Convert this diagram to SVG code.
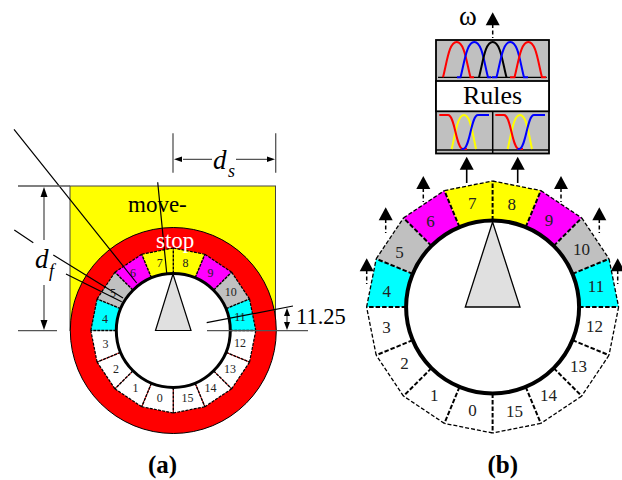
<svg xmlns="http://www.w3.org/2000/svg" width="622" height="480" viewBox="0 0 622 480">
<style>
text{font-family:"Liberation Serif","Times New Roman",serif;fill:#000}
.la{font-size:12px;text-anchor:middle;fill:#222}
.lb{font-size:17px;text-anchor:middle;fill:#222}
.cap{font-size:25px;font-weight:bold}
.big{font-size:23px}
.i{font-style:italic}
.thin{stroke:#000;stroke-width:1.2;fill:none}
.dim{stroke:#555;stroke-width:1.3;fill:none}
.dsh{stroke:#000;stroke-width:1.5;fill:none;stroke-dasharray:4 2.5}
.c{fill:none;stroke-width:2}
.white{fill:#fff}.cy{fill:#0ff}.gr{fill:#c0c0c0}.mg{fill:#f0f}.ye{fill:#ff0}
</style>
<defs>
<polygon id="sa" points="0,57 0,82.5 -31.57,76.22 -21.81,52.66"/>
<polygon id="sb" points="0,86.5 0,126 -48.22,116.41 -33.1,79.92"/>
<g id="ea"><line class="thin" x1="0" y1="82.5" x2="-31.57" y2="76.22" stroke-dasharray="3 1.2"/><line x1="0" y1="57" x2="0" y2="82.5" stroke="#000" stroke-width="1.4" stroke-dasharray="3 1"/></g>
<g id="eb"><line x1="0" y1="126" x2="-48.22" y2="116.41" stroke="#000" stroke-width="1.3" stroke-dasharray="4 2"/><line x1="0" y1="86.5" x2="0" y2="126" stroke="#000" stroke-width="2" stroke-dasharray="4.5 2"/></g>
<polygon id="up" points="0,0 -7,13 7,13" fill="#000"/>
</defs>

<g id="panel-a">
<rect id="move-stop-zone" x="70" y="186" width="205.5" height="144.5" fill="#ff0" stroke="#444" stroke-width="1"/>
<circle id="stop-zone" cx="173.3" cy="330.5" r="103" fill="#f00" stroke="#000" stroke-width="1"/>
<g transform="translate(173.3 330.5)">
<use href="#sa" class="white" transform="rotate(0)"/>
<use href="#sa" class="white" transform="rotate(22.5)"/>
<use href="#sa" class="white" transform="rotate(45)"/>
<use href="#sa" class="white" transform="rotate(67.5)"/>
<use href="#sa" class="cy" transform="rotate(90)"/>
<use href="#sa" class="gr" transform="rotate(112.5)"/>
<use href="#sa" class="mg" transform="rotate(135)"/>
<use href="#sa" class="ye" transform="rotate(157.5)"/>
<use href="#sa" class="ye" transform="rotate(180)"/>
<use href="#sa" class="mg" transform="rotate(202.5)"/>
<use href="#sa" class="gr" transform="rotate(225)"/>
<use href="#sa" class="cy" transform="rotate(247.5)"/>
<use href="#sa" class="white" transform="rotate(270)"/>
<use href="#sa" class="white" transform="rotate(292.5)"/>
<use href="#sa" class="white" transform="rotate(315)"/>
<use href="#sa" class="white" transform="rotate(337.5)"/>
<g id="a-red-gaps" stroke="#f00" stroke-width="0.9">
<line y1="57" y2="82.5"/><line y1="57" y2="82.5" transform="rotate(22.5)"/><line y1="57" y2="82.5" transform="rotate(45)"/><line y1="57" y2="82.5" transform="rotate(67.5)"/><line y1="57" y2="82.5" transform="rotate(292.5)"/><line y1="57" y2="82.5" transform="rotate(315)"/><line y1="57" y2="82.5" transform="rotate(337.5)"/>
</g>
<use href="#ea"/><use href="#ea" transform="rotate(22.5)"/><use href="#ea" transform="rotate(45)"/><use href="#ea" transform="rotate(67.5)"/><use href="#ea" transform="rotate(90)"/><use href="#ea" transform="rotate(112.5)"/><use href="#ea" transform="rotate(135)"/><use href="#ea" transform="rotate(157.5)"/><use href="#ea" transform="rotate(180)"/><use href="#ea" transform="rotate(202.5)"/><use href="#ea" transform="rotate(225)"/><use href="#ea" transform="rotate(247.5)"/><use href="#ea" transform="rotate(270)"/><use href="#ea" transform="rotate(292.5)"/><use href="#ea" transform="rotate(315)"/><use href="#ea" transform="rotate(337.5)"/>
<circle id="a-robot-body" r="57" fill="#fff" stroke="#000" stroke-width="3"/>
</g>
<polygon id="a-heading" points="173,274 155.5,330.5 191,330.5" fill="#e0e0e0" stroke="#000" stroke-width="1.2"/>
<g id="a-labels">
<text class="la" x="159.8" y="402">0</text><text class="la" x="135.5" y="392">1</text><text class="la" x="115.9" y="372.5">2</text><text class="la" x="105.6" y="348">3</text><text class="la" x="105" y="323">4</text><text class="la" x="113" y="296.5">5</text><text class="la" x="133" y="277">6</text><text class="la" x="159.8" y="266.8">7</text><text class="la" x="185.5" y="266.8">8</text><text class="la" x="210.5" y="277">9</text><text class="la" x="230.7" y="296">10</text><text class="la" x="240" y="321">11</text><text class="la" x="240" y="347">12</text><text class="la" x="230" y="372.5">13</text><text class="la" x="210.5" y="392">14</text><text class="la" x="187.5" y="402">15</text>
</g>
<g id="a-connectors">
<path class="thin" d="M14,129.3L136.7,283M14.3,230L33.3,242.7M53.3,255L123,298M66,274L121.7,301.7M157.7,182.3L166.7,273M206.7,322.7L293,306"/>
<path class="dim" d="M18,186H70M18,330.7H57M207,330.7H308M173,133.3V172.7M275.7,133.3V172.7M44,195V240M44,285V322M183,159.3H212M236,159.3H267M287,314V325"/>
<g fill="#000">
<polygon points="174,159.3 182,156.5 182,162"/><polygon points="275,159.3 267,156.5 267,162"/>
<polygon points="44,187 40.5,197 47.5,197"/><polygon points="44,330 40.5,320 47.5,320"/>
<polygon points="287,308 284,316 290,316"/><polygon points="287,330 284,322 290,322"/>
</g>
</g>
<text class="big" x="128" y="212">move-</text>
<text class="big" x="156" y="248" style="fill:#fff">stop</text>
<text class="i" x="213" y="169" font-size="27">d</text><text class="i" x="228" y="177" font-size="18">s</text>
<text class="i" x="35" y="268" font-size="27">d</text><text class="i" x="49" y="277" font-size="18">f</text>
<text x="296" y="324" font-size="22.5">11.25</text>
<text class="cap" x="148" y="473">(a)</text>
</g>

<g id="panel-b">
<g transform="translate(492.6 307)">
<use href="#sb" class="white" transform="rotate(0)"/>
<use href="#sb" class="white" transform="rotate(22.5)"/>
<use href="#sb" class="white" transform="rotate(45)"/>
<use href="#sb" class="white" transform="rotate(67.5)"/>
<use href="#sb" class="cy" transform="rotate(90)"/>
<use href="#sb" class="gr" transform="rotate(112.5)"/>
<use href="#sb" class="mg" transform="rotate(135)"/>
<use href="#sb" class="ye" transform="rotate(157.5)"/>
<use href="#sb" class="ye" transform="rotate(180)"/>
<use href="#sb" class="mg" transform="rotate(202.5)"/>
<use href="#sb" class="gr" transform="rotate(225)"/>
<use href="#sb" class="cy" transform="rotate(247.5)"/>
<use href="#sb" class="white" transform="rotate(270)"/>
<use href="#sb" class="white" transform="rotate(292.5)"/>
<use href="#sb" class="white" transform="rotate(315)"/>
<use href="#sb" class="white" transform="rotate(337.5)"/>
<use href="#eb"/><use href="#eb" transform="rotate(22.5)"/><use href="#eb" transform="rotate(45)"/><use href="#eb" transform="rotate(67.5)"/><use href="#eb" transform="rotate(90)"/><use href="#eb" transform="rotate(112.5)"/><use href="#eb" transform="rotate(135)"/><use href="#eb" transform="rotate(157.5)"/><use href="#eb" transform="rotate(180)"/><use href="#eb" transform="rotate(202.5)"/><use href="#eb" transform="rotate(225)"/><use href="#eb" transform="rotate(247.5)"/><use href="#eb" transform="rotate(270)"/><use href="#eb" transform="rotate(292.5)"/><use href="#eb" transform="rotate(315)"/><use href="#eb" transform="rotate(337.5)"/>
<circle id="b-robot-body" r="86.5" fill="#fff" stroke="#000" stroke-width="4"/>
</g>
<polygon id="b-heading" points="492.6,222 465.3,307 520,307" fill="#e0e0e0" stroke="#000" stroke-width="1.3"/>
<g id="b-labels">
<text class="lb" x="472.5" y="416">0</text><text class="lb" x="434.3" y="400.5">1</text><text class="lb" x="404.5" y="369">2</text><text class="lb" x="386.5" y="332.5">3</text><text class="lb" x="386.7" y="297">4</text><text class="lb" x="399.5" y="258">5</text><text class="lb" x="430.5" y="227">6</text><text class="lb" x="472.3" y="208.5">7</text><text class="lb" x="511.7" y="209.5">8</text><text class="lb" x="549" y="225.5">9</text><text class="lb" x="581.5" y="254.5">10</text><text class="lb" x="596" y="292">11</text><text class="lb" x="594.5" y="332">12</text><text class="lb" x="578.5" y="372">13</text><text class="lb" x="548.5" y="400.5">14</text><text class="lb" x="514.5" y="417">15</text>
</g>
<g id="b-controller">
<rect x="436" y="40" width="113" height="113.5" fill="#c0c0c0" stroke="#000" stroke-width="1.8"/>
<rect id="rules" x="436" y="81" width="113" height="30.3" fill="#fff" stroke="#000" stroke-width="1.8"/>
<path d="M492.7,111V153.5M436,150H549" stroke="#000" stroke-width="1.5" fill="none"/>
<path d="M438,77.3H546.7" stroke="#000" stroke-width="1.3" fill="none"/>
<path class="c" stroke="#f00" d="M443,77.3C447,62 449,42 456.7,42C464.4,42 466.5,62 470.5,77.3H474"/>
<path class="c" stroke="#00f" d="M457,77.3H460.5C464.5,62 466.6,42 474.3,42C482,42 484,62 488,77.3H491"/>
<path class="c" stroke="#000" d="M479,77.3C483,62 485,42 492.7,42C500.4,42 502.5,62 506.5,77.3"/>
<path class="c" stroke="#00f" d="M492,77.3H496.5C500.5,62 502.6,42 510.3,42C518,42 520,62 524,77.3H528"/>
<path class="c" stroke="#f00" d="M510,77.3H514.5C518.5,62 520.6,42 528.3,42C536,42 538,62 542,77.3H546"/>
<g id="in-left">
<path class="c" stroke="#ff0" d="M451.7,149C456,130 458,115 464,115C470,115 472,130 476,149"/>
<path class="c" stroke="#f00" d="M439.3,115H448C455,115 456,149 463,149H467"/>
<path class="c" stroke="#00f" d="M461.5,149H463C470,149 471,115 478,115H489"/>
</g>
<g id="in-right" transform="translate(56 0)">
<path class="c" stroke="#ff0" d="M451.7,149C456,130 458,115 464,115C470,115 472,130 476,149"/>
<path class="c" stroke="#f00" d="M439.3,115H448C455,115 456,149 463,149H467"/>
<path class="c" stroke="#00f" d="M461.5,149H463C470,149 471,115 478,115H489"/>
</g>
<text x="492.5" y="104" font-size="26" text-anchor="middle">Rules</text>
</g>
<g id="b-connectors">
<path d="M466.7,168V183M517.7,168V183" stroke="#000" stroke-width="1.6" fill="none"/>
<use href="#up" x="466.7" y="156.7"/><use href="#up" x="517.7" y="156.7"/>
<path class="dsh" d="M492.7,24V38M423.3,188V202M561,188V202M385.7,219V233M599.3,219V233M366.7,270V284M617.7,270V284"/>
<use href="#up" x="492.7" y="12.3"/><use href="#up" x="423.3" y="176"/><use href="#up" x="561" y="176"/><use href="#up" x="385.7" y="207.3"/><use href="#up" x="599.3" y="207.3"/><use href="#up" x="366.7" y="258.3"/><use href="#up" x="617.7" y="258.3"/>
</g>
<text x="459" y="25" font-size="27">ω</text>
<text class="cap" x="487.5" y="473">(b)</text>
</g>
</svg>
